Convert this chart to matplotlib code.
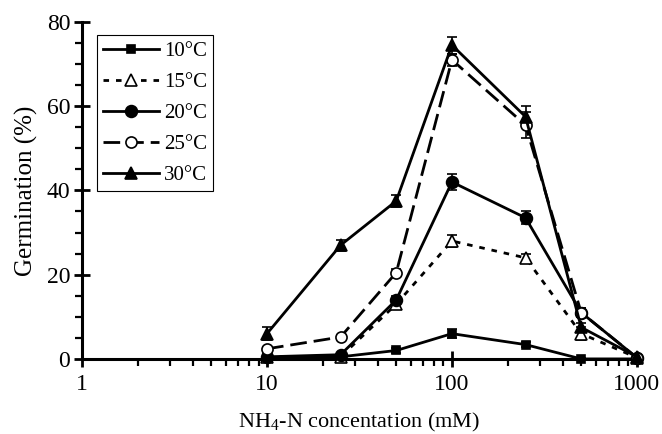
import matplotlib
matplotlib.use("Agg")
import matplotlib.pyplot as plt
from matplotlib.lines import Line2D
from matplotlib.ticker import LogLocator, MultipleLocator, NullFormatter

plt.rcParams["font.family"] = "Liberation Serif"
plt.rcParams["mathtext.fontset"] = "custom"
plt.rcParams["mathtext.rm"] = "Liberation Serif"

conc = [10, 25, 50, 100, 250, 500, 1000]

g10 = [0.3, 0.5, 2.0, 6.0, 3.4, 0.0, 0.0]
e10 = [0.3, 0.3, 0.7, 1.0, 0.5, 0.2, 0.2]
g15 = [0.5, 0.5, 13.0, 28.0, 24.0, 6.0, 0.3]
e15 = [0.3, 0.3, 1.0, 1.5, 0.8, 1.5, 0.3]
g20 = [0.5, 1.0, 14.0, 42.0, 33.5, 11.0, 0.3]
e20 = [0.3, 0.3, 1.0, 2.0, 1.5, 1.0, 0.3]
g25 = [2.4, 5.2, 20.5, 71.0, 55.5, 11.0, 0.3]
e25 = [0.4, 0.5, 0.8, 1.5, 3.0, 1.0, 0.3]
g30 = [6.0, 27.0, 37.5, 74.5, 57.5, 7.5, 0.5]
e30 = [1.5, 1.3, 1.5, 2.0, 2.5, 1.0, 0.3]

# label, values, errors, linestyle, marker, face colour, marker size
series = [
    ("10°C", g10, e10, "-", "s", "k", 6),
    ("15°C", g15, e15, (0, (2, 2.5)), "^", "white", 9),
    ("20°C", g20, e20, "-", "o", "k", 8.5),
    ("25°C", g25, e25, (0, (6, 2.5)), "o", "white", 8),
    ("30°C", g30, e30, "-", "^", "k", 9),
]

fig = plt.figure(figsize=(6.62, 4.34), dpi=100)
ax = fig.add_axes([0.124, 0.173, 0.838, 0.7765])

handles = []
for label, y, err, ls, mk, fc, ms in series:
    ax.errorbar(conc, y, yerr=err, fmt="none", ecolor="k", elinewidth=1.2,
                capsize=3.8, capthick=1.2, clip_on=False)
    ax.plot(conc, y, color="k", linestyle=ls, linewidth=2, marker=mk,
            markerfacecolor=fc, markeredgecolor="k", markersize=ms,
            markeredgewidth=1.2, clip_on=False, zorder=3)
    handles.append(Line2D([], [], color="k", linestyle=ls, linewidth=2,
                          marker=mk, markerfacecolor=fc, markeredgecolor="k",
                          markersize=ms, markeredgewidth=1.2, label=label))

ax.set_xscale("log")
ax.set_xlim(1, 1000)
ax.set_ylim(0, 80)
ax.xaxis.set_minor_locator(LogLocator(base=10, subs=range(2, 10)))
ax.xaxis.set_minor_formatter(NullFormatter())
ax.set_xticks([1, 10, 100, 1000])
ax.set_xticklabels(["1", "10", "100", "1000"])
ax.yaxis.set_major_locator(MultipleLocator(20))
ax.yaxis.set_minor_locator(MultipleLocator(5))

for s in ["top", "right"]:
    ax.spines[s].set_visible(False)
for s in ["left", "bottom"]:
    ax.spines[s].set_linewidth(2.2)
ax.tick_params(which="major", direction="inout", length=11, width=2,
               labelsize=17)
ax.tick_params(axis="x", which="major", pad=5)
ax.tick_params(axis="y", which="major", pad=3)
ax.tick_params(which="minor", direction="out", length=5, width=1.6)

ax.set_xlabel("NH$_4$-N concentation (mM)", fontsize=16, labelpad=12)
ax.set_ylabel("Germination (%)", fontsize=18, labelpad=6)

leg = ax.legend(handles=handles, loc="upper left",
                bbox_to_anchor=(0.027, 0.961), borderaxespad=0, fontsize=15,
                fancybox=False, edgecolor="k", framealpha=1,
                handlelength=2.65, borderpad=0.3, labelspacing=0.55,
                handletextpad=0.25)
leg.get_frame().set_linewidth(0.8)

fig.savefig("out.png", dpi=100)
